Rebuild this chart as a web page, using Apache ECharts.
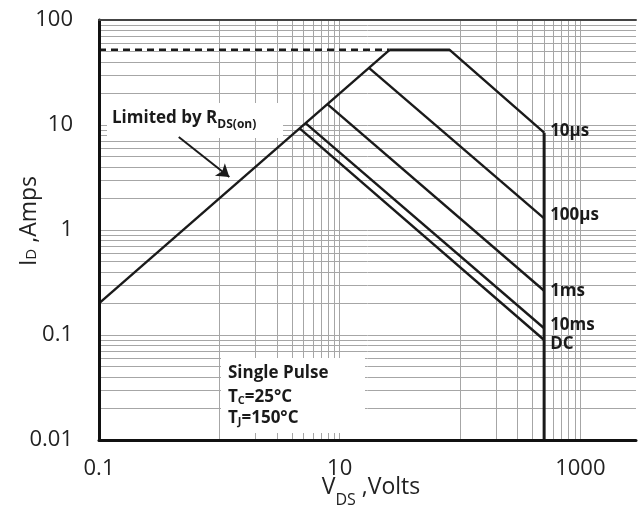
<!DOCTYPE html>
<html><head><meta charset="utf-8">
<script src="https://cdn.jsdelivr.net/npm/echarts@6/dist/echarts.min.js"></script>
<style>html,body{margin:0;padding:0;background:#fff}#c{width:639px;height:508px}</style>
</head><body><div id="c"></div>
<script>
// ---- axis range & tick labels ----
const xMin = 0.1, xMax = 2900, yMin = 0.01, yMax = 100;
const xTickValues = [0.1, 10, 1000];
const xTickLabels = ['0.1', '10', '1000'];
const yTickValues = [0.01, 0.1, 1, 10, 100];
const yTickLabels = ['0.01', '0.1', '1', '10', '100'];
// ---- grid lines (values) ----
const xGridValues = [1, 2, 3, 4, 5, 6, 7, 8, 9, 10, 100, 200, 300, 400, 500, 600, 700, 800, 900, 1000];
const yGridValues = [0.02, 0.03, 0.04, 0.05, 0.06, 0.07, 0.08, 0.09, 0.1,
  0.2, 0.3, 0.4, 0.5, 0.6, 0.7, 0.8, 0.9, 1,
  2, 3, 4, 5, 6, 7, 8, 9, 10,
  20, 30, 40, 50, 60, 70, 80, 90];
// ---- SOA curves: V_DS (V) and I_D (A) ----
const rdsV = [0.1, 26];      const rdsI = [0.2, 52];
const limDashV = [0.1, 26];  const limDashI = [52, 52];
const us10V = [26, 82, 500]; const us10I = [52, 52, 8.45];
const us100V = [17.5, 500];  const us100I = [35, 1.29];
const ms1V = [7.9, 500];     const ms1I = [15.8, 0.264];
const ms10V = [5.2, 500];    const ms10I = [10.4, 0.116];
const dcV = [4.65, 500];     const dcI = [9.3, 0.0896];
const bvV = [500, 500];      const bvI = [8.45, 0.01];
const arrowV = [0.46, 1.21]; const arrowI = [7.7, 3.2];
const curveNames = ['10µs', '100µs', '1ms', '10ms', 'DC'];

const zip = (a, b) => a.map((v, i) => [v, b[i]]);
const FONT = "'Open Sans', 'Noto Sans', sans-serif";
const INK = '#1a1a1a';

function labelFor(values, labels) {
  return function (v) {
    for (let i = 0; i < values.length; i++) {
      if (Math.abs(Math.log10(v) - Math.log10(values[i])) < 1e-6) return labels[i];
    }
    return '';
  };
}

function curve(name, V, I, width, endOffset, extra) {
  const s = {
    name: name, type: 'line', data: zip(V, I), showSymbol: false, symbol: 'none',
    lineStyle: { color: INK, width: width }, z: 2, silent: true, animation: false
  };
  if (endOffset) {
    s.endLabel = {
      show: true, formatter: name, distance: 6, offset: endOffset,
      color: INK, fontSize: 17, fontWeight: 'bold', fontFamily: FONT
    };
  }
  return Object.assign(s, extra || {});
}

const chart = echarts.init(document.getElementById('c'), null, { renderer: 'canvas' });
const option = {
  animation: false,
  textStyle: { fontFamily: FONT },
  grid: { left: 99, right: 0, top: 20, bottom: 68, show: false },
  xAxis: [{
    type: 'log', logBase: 10, min: xMin, max: xMax, z: 4,
    axisLine: { show: true, onZero: false, lineStyle: { color: '#111', width: 3 } },
    axisTick: { show: false }, splitLine: { show: false },
    axisLabel: { formatter: labelFor(xTickValues, xTickLabels), fontSize: 22, color: '#222', margin: 18, lineHeight: 22, fontFamily: FONT }
  }, {
    type: 'log', logBase: 10, min: xMin, max: xMax, z: 4, position: 'top',
    axisLine: { show: true, onZero: false, lineStyle: { color: '#444', width: 2 } },
    axisTick: { show: false }, splitLine: { show: false }, axisLabel: { show: false }
  }],
  yAxis: {
    type: 'log', logBase: 10, min: yMin, max: yMax, z: 4,
    axisLine: { show: true, onZero: false, lineStyle: { color: '#111', width: 3 } },
    axisTick: { show: false }, splitLine: { show: false },
    axisLabel: { formatter: labelFor(yTickValues, yTickLabels), fontSize: 22, color: '#222', margin: 26, fontFamily: FONT }
  },
  series: [
    {
      name: 'grid', type: 'line', data: [[1, 1]], showSymbol: false, symbol: 'none',
      lineStyle: { opacity: 0 }, z: 0, silent: true,
      markLine: {
        silent: true, z: 0, symbol: 'none', animation: false, label: { show: false },
        lineStyle: { color: '#a6a6a6', width: 1, type: 'solid' },
        emphasis: { disabled: true },
        data: xGridValues.map(v => ({ xAxis: v })).concat(yGridValues.map(v => ({ yAxis: v })))
      }
    },
    curve('Limited by RDS(on)', rdsV, rdsI, 2.4, null, {
      markLine: {
        silent: true, z: 3, symbol: ['none', 'arrow'], symbolSize: 12, animation: false,
        label: { show: false }, lineStyle: { color: INK, width: 2, type: 'solid' },
        itemStyle: { color: INK },
        emphasis: { disabled: true },
        data: [[{ coord: [arrowV[0], arrowI[0]] }, { coord: [arrowV[1], arrowI[1]] }]]
      }
    }),
    curve('limit', limDashV, limDashI, 2.4, null, { lineStyle: { color: INK, width: 2.4, type: [7, 5] } }),
    curve(curveNames[0], us10V, us10I, 2.4, [0, -2]),
    curve(curveNames[1], us100V, us100I, 2.4, [0, -3]),
    curve(curveNames[2], ms1V, ms1I, 2.4, [0, 0]),
    curve(curveNames[3], ms10V, ms10I, 2.4, [0, -3]),
    curve(curveNames[4], dcV, dcI, 2.4, [0, 4]),
    curve('BVDSS', bvV, bvI, 3, null)
  ],
  graphic: [
    { type: 'rect', z: 1, silent: true, shape: { x: 107, y: 103, width: 176, height: 35 }, style: { fill: '#fff' } },
    { type: 'rect', z: 1, silent: true, shape: { x: 221, y: 358, width: 144, height: 75 }, style: { fill: '#fff' } },
    {
      type: 'text', z: 5, silent: true, x: 112, y: 118,
      style: {
        text: '{a|Limited by R}{s|DS(on)}', align: 'left', verticalAlign: 'middle',
        rich: {
          a: { fontSize: 17, fontWeight: 'bold', fontFamily: FONT, fill: INK },
          s: { fontSize: 12, fontWeight: 'bold', fontFamily: FONT, fill: INK, padding: [13, 0, 0, 0] }
        }
      }
    },
    {
      type: 'text', z: 5, silent: true, x: 228, y: 373,
      style: { text: 'Single Pulse', align: 'left', verticalAlign: 'middle', fontSize: 17, fontWeight: 'bold', fontFamily: FONT, fill: INK }
    },
    {
      type: 'text', z: 5, silent: true, x: 228, y: 397,
      style: {
        text: '{a|T}{s|C}{a|=25°C}', align: 'left', verticalAlign: 'middle',
        rich: {
          a: { fontSize: 17, fontWeight: 'bold', fontFamily: FONT, fill: INK },
          s: { fontSize: 11, fontWeight: 'bold', fontFamily: FONT, fill: INK, padding: [7, 0, 0, 0] }
        }
      }
    },
    {
      type: 'text', z: 5, silent: true, x: 228, y: 418,
      style: {
        text: '{a|T}{s|J}{a|=150°C}', align: 'left', verticalAlign: 'middle',
        rich: {
          a: { fontSize: 17, fontWeight: 'bold', fontFamily: FONT, fill: INK },
          s: { fontSize: 11, fontWeight: 'bold', fontFamily: FONT, fill: INK, padding: [7, 0, 0, 0] }
        }
      }
    },
    {
      type: 'text', z: 5, silent: true, x: 371, y: 487,
      style: {
        text: '{v|V}{s|DS}{v| ,Volts}', align: 'center', verticalAlign: 'middle',
        rich: {
          v: { fontSize: 23, fontFamily: FONT, fill: '#222' },
          s: { fontSize: 16, fontFamily: FONT, fill: '#222', padding: [27, 0, 0, 0] }
        }
      }
    },
    {
      type: 'text', z: 5, silent: true, x: 29, y: 221, rotation: Math.PI / 2,
      style: {
        text: '{m|I}{s|D}{m| ,Amps}', align: 'center', verticalAlign: 'middle',
        rich: {
          m: { fontSize: 23, fontFamily: FONT, fill: '#222' },
          s: { fontSize: 15, fontFamily: FONT, fill: '#222', padding: [6, 0, 0, 0] }
        }
      }
    }
  ]
};
chart.setOption(option);
</script>
</body></html>
